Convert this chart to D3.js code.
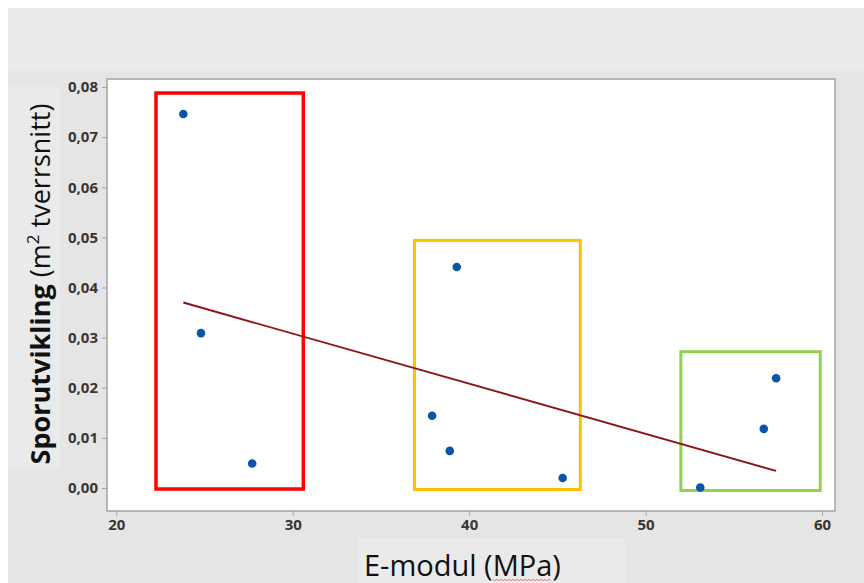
<!DOCTYPE html>
<html>
<head>
<meta charset="utf-8">
<script src="https://cdn.jsdelivr.net/npm/d3@7.9.0/dist/d3.min.js"></script>
<style>
  html, body { margin: 0; padding: 0; background: #fff; }
  svg { display: block; }
</style>
</head>
<body>
<svg id="chart" width="864" height="583"></svg>
<script>
// data
const eModul = [23.8, 24.8, 27.7, 37.9, 38.9, 39.3, 45.3, 53.1, 56.7, 57.4];
const sporutvikling = [0.0746, 0.0309, 0.0049, 0.0144, 0.0074, 0.0441, 0.0020, 0.0001, 0.0118, 0.0219];
const fitX = [23.8, 57.4];
const fitY = [0.0370, 0.0034];
const xTicks = [20, 30, 40, 50, 60];
const yTicks = [0, 0.01, 0.02, 0.03, 0.04, 0.05, 0.06, 0.07, 0.08];
// group boxes (data units)
const boxX0 = [22.25, 36.9, 52.0];
const boxX1 = [30.6, 46.3, 59.9];
const boxY0 = [-0.0002, -0.0003, -0.0005];
const boxY1 = [0.0788, 0.0494, 0.0272];
const boxColors = ['#ff0000', '#ffc000', '#92d050'];

const svg = d3.select('#chart');
const W = 864, H = 583;
const frame = { left: 107, right: 835, top: 79, bottom: 511 };

// backgrounds
svg.append('rect').attr('x', 8).attr('y', 8).attr('width', W - 8).attr('height', H - 8).attr('fill', '#e5e5e5');
svg.append('rect').attr('x', 8).attr('y', 8).attr('width', W - 8).attr('height', 63).attr('fill', '#eaeaea');
svg.append('rect').attr('x', 8).attr('y', 87).attr('width', 52).attr('height', 382).attr('fill', '#eaeaea');
svg.append('rect').attr('x', 358).attr('y', 538).attr('width', 267).attr('height', 45).attr('fill', '#eaeaea');

svg.append('rect')
  .attr('x', frame.left).attr('y', frame.top)
  .attr('width', frame.right - frame.left).attr('height', frame.bottom - frame.top)
  .attr('fill', '#fff').attr('stroke', '#a3a3a3').attr('stroke-width', 1.5);

const x = d3.scaleLinear().domain([20, 60]).range([116.3, 822]);
const y = d3.scaleLinear().domain([0, 0.08]).range([488, 87]);

const fmt = d3.formatLocale({ decimal: ',', thousands: ' ', grouping: [3], currency: ['', ''] }).format('.2f');

const xAxis = svg.append('g').attr('transform', `translate(0,${frame.bottom})`)
  .call(d3.axisBottom(x).tickValues(xTicks).tickSize(5).tickSizeOuter(0).tickPadding(3));
const yAxis = svg.append('g').attr('transform', `translate(${frame.left},0)`)
  .call(d3.axisLeft(y).tickValues(yTicks).tickFormat(fmt).tickSize(5).tickSizeOuter(0).tickPadding(4));
[xAxis, yAxis].forEach(a => {
  a.select('.domain').remove();
  a.selectAll('line').attr('stroke', '#a3a3a3');
  a.selectAll('text').attr('fill', '#3b3530')
    .style('font-family', '"Open Sans", sans-serif').style('font-size', '15px').style('font-weight', 700);
});

const g = svg.append('g');

// coloured group boxes
g.selectAll('.box').data(boxColors).join('rect').attr('class', 'box')
  .attr('x', (d, i) => x(boxX0[i]))
  .attr('y', (d, i) => y(boxY1[i]))
  .attr('width', (d, i) => x(boxX1[i]) - x(boxX0[i]))
  .attr('height', (d, i) => y(boxY0[i]) - y(boxY1[i]))
  .attr('fill', 'none').attr('stroke', d => d)
  .attr('stroke-width', (d, i) => i === 0 ? 3.5 : 3);

// fitted line
g.append('path')
  .datum(fitX.map((v, i) => [v, fitY[i]]))
  .attr('d', d3.line().x(d => x(d[0])).y(d => y(d[1])))
  .attr('fill', 'none').attr('stroke', '#8e1414').attr('stroke-width', 1.9);

// points
g.selectAll('.pt').data(eModul).join('circle').attr('class', 'pt')
  .attr('cx', d => x(d))
  .attr('cy', (d, i) => y(sporutvikling[i]))
  .attr('r', 4.3).attr('fill', '#0a55a8');

// y axis title
const yt = svg.append('text')
  .attr('transform', 'translate(50,284) rotate(-90)')
  .attr('text-anchor', 'middle')
  .style('font-family', '"Open Sans", sans-serif').style('font-size', '27px').attr('fill', '#111');
yt.append('tspan').style('font-weight', 700).text('Sporutvikling');
yt.append('tspan').text(' (m');
yt.append('tspan').attr('baseline-shift', 'super').style('font-size', '17px').text('2');
yt.append('tspan').text(' tverrsnitt)');

// x axis title
const xt = svg.append('text')
  .attr('x', 364).attr('y', 576)
  .style('font-family', '"Open Sans", sans-serif').style('font-size', '29px').attr('fill', '#111');
xt.append('tspan').text('E-modul (');
const mpa = xt.append('tspan').text('MPa');
xt.append('tspan').text(')');

// spell-check squiggle under "MPa"
const ext = mpa.node().getStartPositionOfChar(0).x;
const end = mpa.node().getEndPositionOfChar(2).x;
const zig = d3.range(ext, end, 2).map((v, i) => [v, 579.5 + (i % 2 ? 1.2 : -0.2)]);
svg.append('path').attr('d', d3.line()(zig))
  .attr('fill', 'none').attr('stroke', '#e25050').attr('stroke-width', 0.8);
</script>
</body>
</html>
